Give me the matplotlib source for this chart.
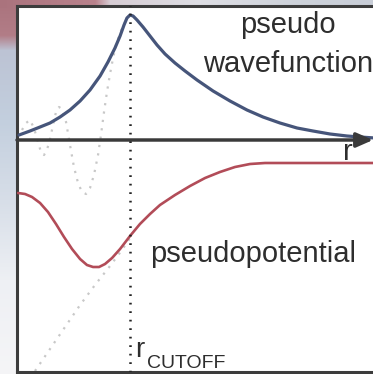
import numpy as np
import matplotlib
matplotlib.use("Agg")
import matplotlib.pyplot as plt

plt.rcParams['font.family'] = ['Liberation Sans', 'DejaVu Sans']

# r in units of the cutoff radius, values in arbitrary units
r_cut = 1.0

# pseudo wavefunction (solid blue)
wf_r = [0.018, 0.115, 0.204, 0.292, 0.381, 0.469, 0.558, 0.646, 0.735, 0.805,
        0.867, 0.912, 0.947, 0.973, 1.0, 1.027, 1.062, 1.115, 1.177, 1.239,
        1.310, 1.398, 1.487, 1.593, 1.735, 1.885, 2.035, 2.177, 2.327, 2.478,
        2.619, 2.770, 2.920, 3.035, 3.168]
wf_v = [0.04, 0.072, 0.104, 0.136, 0.184, 0.24, 0.312, 0.40, 0.512, 0.624,
        0.736, 0.832, 0.92, 0.976, 1.0, 0.992, 0.96, 0.904, 0.832, 0.76,
        0.688, 0.616, 0.552, 0.48, 0.392, 0.312, 0.24, 0.184, 0.136, 0.096,
        0.072, 0.048, 0.032, 0.024, 0.016]

# all-electron wavefunction inside the core (grey dots)
ae_r = [0.044, 0.080, 0.115, 0.150, 0.186, 0.212, 0.239, 0.265, 0.292, 0.319,
        0.345, 0.372, 0.398, 0.434, 0.469, 0.504, 0.540, 0.575, 0.611, 0.646,
        0.681, 0.717, 0.743, 0.770, 0.796, 0.823, 0.850, 0.876, 0.912, 0.947]
ae_v = [0.08, 0.136, 0.16, 0.096, -0.016, -0.096, -0.12, -0.08, 0.008, 0.12,
        0.224, 0.264, 0.248, 0.144, -0.04, -0.216, -0.344, -0.416, -0.432, -0.384,
        -0.28, -0.12, 0.04, 0.224, 0.384, 0.528, 0.656, 0.76, 0.856, 0.936]

# pseudopotential (solid red)
pp_r = [0.009, 0.071, 0.133, 0.204, 0.274, 0.345, 0.416, 0.487, 0.558, 0.619,
        0.673, 0.726, 0.779, 0.841, 0.912, 1.0, 1.088, 1.177, 1.265, 1.398,
        1.531, 1.664, 1.796, 1.929, 2.062, 2.195, 2.327, 3.212]
pp_v = [-0.424, -0.432, -0.456, -0.504, -0.576, -0.672, -0.776, -0.872, -0.952, -1.0,
        -1.016, -1.016, -0.992, -0.944, -0.872, -0.768, -0.672, -0.592, -0.52, -0.44,
        -0.368, -0.304, -0.256, -0.216, -0.192, -0.184, -0.184, -0.184]

# bare coulomb potential inside the core (grey dots)
cp_r = [0.159, 0.292, 0.425, 0.558, 0.690, 0.823, 0.929, 1.0]
cp_v = [-1.848, -1.672, -1.496, -1.32, -1.16, -1.008, -0.88, -0.784]

W, H = 373, 374
fig = plt.figure(figsize=(W / 100, H / 100), dpi=100)

# blurred slide background, only seen along the top and left edges
bg_ax = fig.add_axes([0, 0, 1, 1])
yy = np.arange(H)
xx = np.arange(W)
vy = [0, 35, 50, 120, 200, 280, 374]
vcol = np.array([(170, 115, 125), (178, 125, 135), (188, 195, 212), (195, 207, 222),
                 (215, 222, 232), (238, 240, 244), (245, 245, 247)]) / 255
hx = [0, 95, 110, 200, 300, 373]
hcol = np.array([(170, 115, 125), (185, 130, 140), (215, 205, 212), (222, 222, 228),
                 (205, 210, 218), (200, 205, 215)]) / 255
bg = np.empty((H, W, 3))
for c in range(3):
    bg[:, :, c] = np.interp(yy, vy, vcol[:, c])[:, None]
    bg[:8, :, c] = np.interp(xx, hx, hcol[:, c])[None, :]
bg_ax.imshow(bg, aspect='auto', extent=(0, W, H, 0))
bg_ax.axis('off')

ax = fig.add_axes([17 / W, 2 / H, 363 / W, 366 / H])
ax.set_facecolor('white')
ax.set_xlim(0, 3.212)
ax.set_ylim(-1.856, 1.072)
ax.set_xticks([])
ax.set_yticks([])
for side in ['left', 'top', 'bottom']:
    ax.spines[side].set_color('#3c3c3c')
    ax.spines[side].set_linewidth(2.2)
ax.spines['right'].set_visible(False)

grey = '#c8c8c8'
ax.plot(ae_r, ae_v, color=grey, lw=1.6, ls=(0, (1, 2.8)), zorder=2)
ax.plot(cp_r, cp_v, color=grey, lw=1.6, ls=(0, (1, 2.8)), zorder=2)

ax.plot(wf_r, wf_v, color='#46557a', lw=2.3, solid_joinstyle='round',
        solid_capstyle='round', zorder=3)
ax.plot(pp_r, pp_v, color='#b24c58', lw=1.9, solid_joinstyle='round',
        solid_capstyle='round', zorder=3)

# r axis with arrow
ax.annotate('', xy=(3.15, 0), xytext=(0, 0),
            arrowprops=dict(arrowstyle='-|>,head_length=0.5,head_width=0.22',
                            mutation_scale=20, color='#3a3a3a', lw=2.5,
                            shrinkA=0, shrinkB=0), zorder=3)

ax.axvline(r_cut, color='#222222', lw=1.8, ls=(0, (0.7, 2.7)), zorder=4)

txt = '#2e2e2e'
ax.text(2.40, 0.856, 'pseudo', fontsize=21, color=txt, ha='center', va='baseline')
ax.text(2.40, 0.544, 'wavefunction', fontsize=21, color=txt, ha='center', va='baseline')
ax.text(1.177, -0.976, 'pseudopotential', fontsize=21, color=txt, ha='left', va='baseline')
ax.text(2.885, -0.16, 'r', fontsize=21, color=txt, ha='left', va='baseline')
ax.text(1.044, -1.736, 'r', fontsize=20, color=txt, ha='left', va='baseline')
ax.text(1.150, -1.824, 'CUTOFF', fontsize=14, color=txt, ha='left', va='baseline')

fig.savefig('out.png', dpi=100)
